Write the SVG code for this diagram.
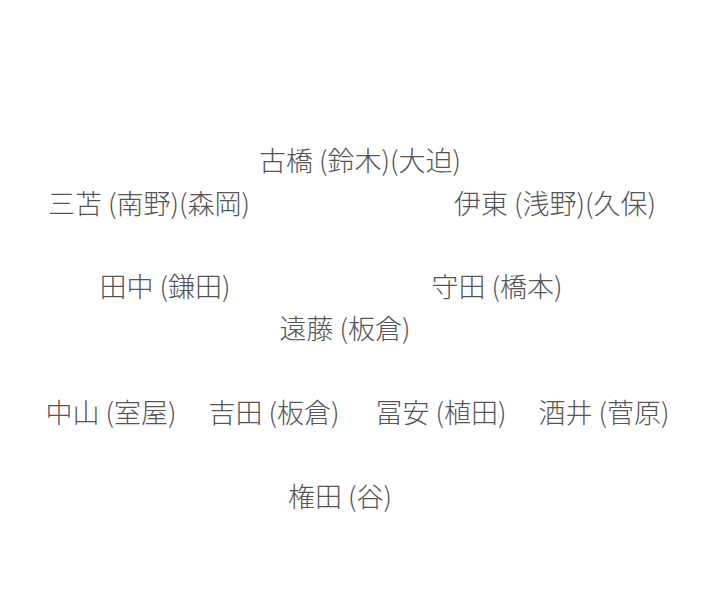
<svg xmlns="http://www.w3.org/2000/svg" width="720" height="615" viewBox="0 0 720 615">
<style>
text{font-family:"Noto Sans CJK JP","Noto Sans",sans-serif;font-size:27px;font-weight:300;fill:#555;text-anchor:middle;dominant-baseline:central}
</style>
<rect width="720" height="615" fill="#fff"/>
<g id="connectors"></g>
<g id="n1"><text x="360" y="159">古橋 (鈴木)(大迫)</text></g>
<g id="n2"><text x="149" y="202">三苫 (南野)(森岡)</text></g>
<g id="n3"><text x="555" y="202">伊東 (浅野)(久保)</text></g>
<g id="n4"><text x="165" y="285">田中 (鎌田)</text></g>
<g id="n5"><text x="497" y="285">守田 (橋本)</text></g>
<g id="n6"><text x="345" y="327">遠藤 (板倉)</text></g>
<g id="n7"><text x="111" y="411">中山 (室屋)</text></g>
<g id="n8"><text x="274" y="411">吉田 (板倉)</text></g>
<g id="n9"><text x="441" y="411">冨安 (植田)</text></g>
<g id="n10"><text x="604" y="411">酒井 (菅原)</text></g>
<g id="n11"><text x="340" y="495">権田 (谷)</text></g>
</svg>
